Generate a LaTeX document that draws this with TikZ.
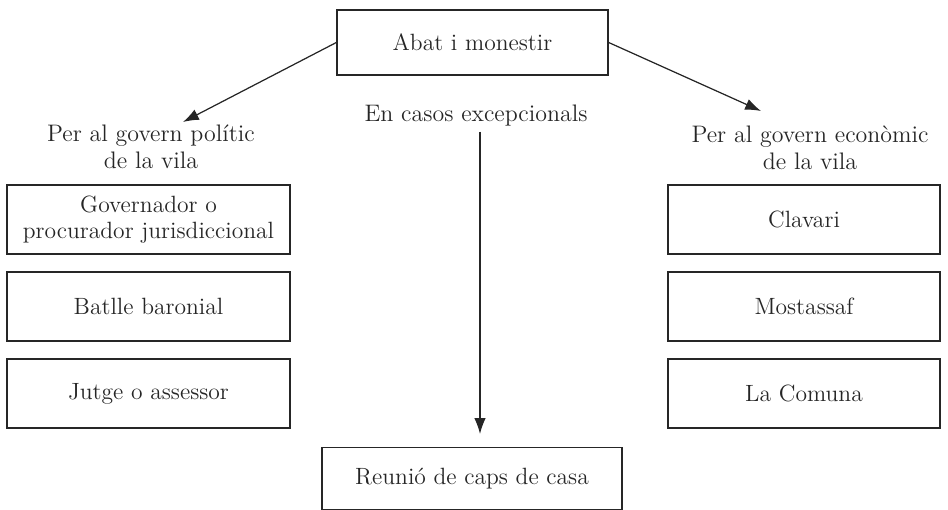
\documentclass[tikz,border=0pt]{standalone}
\usepackage{amsmath,amssymb}
\usepackage{tikz}
\usetikzlibrary{arrows.meta}
\tikzset{
  caixa/.style={draw=black!85, text=black!85, line width=0.8pt, align=center, inner sep=2pt,
    font=\fontsize{13.4}{14.5}\selectfont},
  etiqueta/.style={align=center, text=black!85, font=\fontsize{13.6}{15.4}\selectfont},
  fletxa/.style={-{Latex[length=9pt,width=6.5pt]}, draw=black!85, fill=black!85, line width=0.7pt},
}
\begin{document}
\begin{tikzpicture}[x=0.02cm,y=-0.02cm]
        \useasboundingbox (0,0) rectangle (948,510);
        % caixa superior
        \node[caixa, minimum width=5.42cm, minimum height=1.3cm] (abat) at (472.5,42.5) {Abat i monestir};
        % etiquetes
        \node[etiqueta] (politic) at (151,147) {Per al govern pol\'{\i}tic\\de la vila};
        \node[etiqueta] (economic) at (810,148) {Per al govern econ\`omic\\de la vila};
        \node[etiqueta] (casos) at (476,116) {En casos excepcionals};
        % columna esquerra
        \node[caixa, minimum width=5.66cm, minimum height=1.38cm] (governador) at (148.5,219.5) {Governador o\\procurador jurisdiccional};
        \node[caixa, minimum width=5.66cm, minimum height=1.38cm] (batlle) at (148.5,306.5) {Batlle baronial};
        \node[caixa, minimum width=5.66cm, minimum height=1.38cm] (jutge) at (148.5,393.5) {Jutge o assessor};
        % columna dreta
        \node[caixa, minimum width=5.44cm, minimum height=1.38cm] (clavari) at (804,219.5) {Clavari};
        \node[caixa, minimum width=5.44cm, minimum height=1.38cm] (mostassaf) at (804,306.5) {Mostassaf};
        \node[caixa, minimum width=5.44cm, minimum height=1.38cm] (comuna) at (804,393.5) {La Comuna};
        % caixa inferior
        \node[caixa, minimum width=6cm, minimum height=1.25cm] (reunio) at (472,478.5) {Reuni\'o de caps de casa};
        % puntes de les fletxes
        \coordinate (puntaE) at (183,122);
        \coordinate (puntaD) at (761,111);
        \coordinate (iniciC) at (480,132);
        \coordinate (puntaC) at (480,434);
        % fletxes
        \draw[fletxa] (abat.west) -- (puntaE);
        \draw[fletxa] (abat.east) -- (puntaD);
        \draw[fletxa] (iniciC) -- (puntaC);
\end{tikzpicture}
\end{document}
